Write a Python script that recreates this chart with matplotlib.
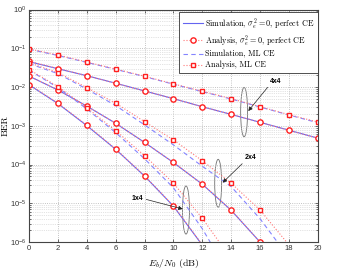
import numpy as np
import matplotlib
matplotlib.use('Agg')
import matplotlib.pyplot as plt
from matplotlib.patches import Ellipse

plt.rcParams['mathtext.fontset'] = 'cm'

snr = [0, 2, 4, 6, 8, 10, 12, 14, 16, 18, 20]

# 4x4
sim_pcsi_4x4 = [4.5e-2, 2.95e-2, 1.95e-2, 1.25e-2, 7.9e-3, 5.0e-3, 3.1e-3, 1.96e-3, 1.23e-3, 7.7e-4, 4.8e-4]
ana_pcsi_4x4 = [4.6e-2, 3.0e-2, 1.96e-2, 1.24e-2, 7.9e-3, 5.0e-3, 3.1e-3, 1.97e-3, 1.23e-3, 7.6e-4, 4.8e-4]
sim_ml_4x4 = [9.4e-2, 6.5e-2, 4.3e-2, 2.85e-2, 1.85e-2, 1.18e-2, 7.6e-3, 4.9e-3, 3.05e-3, 1.9e-3, 1.2e-3]
ana_ml_4x4 = [9.6e-2, 6.7e-2, 4.4e-2, 2.9e-2, 1.9e-2, 1.2e-2, 7.8e-3, 5.0e-3, 3.1e-3, 1.94e-3, 1.25e-3]

# 2x4
sim_pcsi_2x4 = [1.9e-2, 8.3e-3, 3.2e-3, 1.15e-3, 3.7e-4, 1.12e-4, 3.1e-5, 6.6e-6, 1.0e-6, 1.2e-7, 1e-8]
ana_pcsi_2x4 = [1.9e-2, 8.4e-3, 3.2e-3, 1.16e-3, 3.7e-4, 1.13e-4, 3.1e-5, 6.7e-6, 1.0e-6, 1.2e-7, 1e-8]
sim_ml_2x4 = [4.0e-2, 2.2e-2, 8.8e-3, 3.3e-3, 1.05e-3, 3.2e-4, 9.0e-5, 2.7e-5, 4.0e-6, 4.0e-7, 3e-8]
ana_ml_2x4 = [4.2e-2, 2.34e-2, 9.6e-3, 3.8e-3, 1.27e-3, 4.3e-4, 1.25e-4, 3.3e-5, 6.7e-6, 8.5e-7, 8e-8]

# 1x4
snr_1x4 = [0, 2, 4, 6, 8, 10, 12, 14]
sim_pcsi_1x4 = [1.13e-2, 3.7e-3, 1.0e-3, 2.45e-4, 5.0e-5, 8.4e-6, 8.3e-7, 5.5e-8]
ana_pcsi_1x4 = [1.15e-2, 3.8e-3, 1.03e-3, 2.5e-4, 5.1e-5, 8.6e-6, 8.5e-7, 6e-8]
sim_ml_1x4 = [2.7e-2, 9.6e-3, 2.7e-3, 6.6e-4, 1.4e-4, 2.5e-5, 2.2e-6, 1.2e-7]
ana_ml_1x4 = [2.8e-2, 1.02e-2, 2.9e-3, 7.4e-4, 1.69e-4, 3.3e-5, 4.1e-6, 3.7e-7]

xticks = [0, 2, 4, 6, 8, 10, 12, 14, 16, 18, 20]
yticks = [1e-6, 1e-5, 1e-4, 1e-3, 1e-2, 1e-1, 1e0]
ytick_labels = [r'$\mathregular{10^{-6}}$', r'$\mathregular{10^{-5}}$', r'$\mathregular{10^{-4}}$',
                r'$\mathregular{10^{-3}}$', r'$\mathregular{10^{-2}}$', r'$\mathregular{10^{-1}}$',
                r'$\mathregular{10^{0}}$']

# (label, ellipse x, ellipse y low, ellipse y high, arrow head, text pos)
groups = [
    ('4x4', 14.9, 5.2e-4, 9.8e-3, (15.19, 2.4e-3), (16.69, 1.16e-2)),
    ('2x4', 13.1, 7.9e-6, 1.36e-4, (13.41, 3.4e-5), (14.96, 1.23e-4)),
    ('1x4', 10.87, 1.6e-6, 2.8e-5, (10.64, 7.1e-6), (7.92, 1.31e-5)),
]

c_sim = '#6464f0'
c_simml = '#8484ff'
c_ana = '#ff2020'
c_dot = '#ff7878'

fig = plt.figure(figsize=(3.39, 2.74), dpi=100)
ax = fig.add_axes([0.0864, 0.1168, 0.8506, 0.8485])

first = True
for x, sp, ap, sm, am in [(snr, sim_pcsi_4x4, ana_pcsi_4x4, sim_ml_4x4, ana_ml_4x4),
                          (snr, sim_pcsi_2x4, ana_pcsi_2x4, sim_ml_2x4, ana_ml_2x4),
                          (snr_1x4, sim_pcsi_1x4, ana_pcsi_1x4, sim_ml_1x4, ana_ml_1x4)]:
    ax.plot(x, sp, '-', color=c_sim, lw=0.8,
            label=r'Simulation, $\sigma_e^2 = 0$, perfect CE' if first else None)
    ax.plot(x, ap, ':', color=c_dot, lw=0.8, marker='o', ms=3.8, mec=c_ana, mfc='white', mew=1.0,
            label=r'Analysis, $\sigma_e^2 = 0$, perfect CE' if first else None)
    ax.plot(x, sm, '--', color=c_simml, lw=0.8, dashes=(4, 3),
            label='Simulation, ML CE' if first else None)
    ax.plot(x, am, ':', color=c_dot, lw=0.8, marker='s', ms=3.4, mec=c_ana, mfc='white', mew=1.0,
            label='Analysis, ML CE' if first else None)
    first = False

ax.set_yscale('log')
ax.set_xlim(0, 20)
ax.set_ylim(1e-6, 1)
ax.set_xticks(xticks)
ax.set_xticklabels([str(v) for v in xticks], fontfamily='Liberation Sans', fontsize=5.5)
ax.set_yticks(yticks)
ax.set_yticklabels(ytick_labels, fontfamily='Liberation Sans', fontsize=5.5)
ax.tick_params(which='both', direction='in', top=True, right=True, length=2, width=0.5, pad=2, colors='#333333')
ax.tick_params(which='minor', length=1.2)
ax.yaxis.set_minor_formatter(matplotlib.ticker.NullFormatter())
ax.grid(True, which='major', ls=':', color='#b0b0b0', lw=0.6)
ax.grid(True, which='minor', axis='y', ls=':', color='#c8c8c8', lw=0.5)
for s in ax.spines.values():
    s.set_color('#444444')
    s.set_linewidth(0.8)

ax.set_xlabel(r'$E_b/N_0$ (dB)', fontfamily='cmr10', fontsize=7)
ax.set_ylabel('BER', fontfamily='cmr10', fontsize=7)
ax.xaxis.set_label_coords(0.5, -0.065)
ax.yaxis.set_label_coords(-0.068, 0.5)

leg = ax.legend(loc='upper right', bbox_to_anchor=(1.0, 0.988), borderaxespad=0,
                prop={'family': 'cmr10', 'size': 5.8}, fancybox=False, framealpha=1,
                edgecolor='#333333', handlelength=2.5, labelspacing=0.28, borderpad=0.45,
                handletextpad=0.2)
leg.get_frame().set_linewidth(0.6)

# ellipses and arrows
fig.canvas.draw()
to_axes = ax.transData + ax.transAxes.inverted()
for name, ex, ylo, yhi, head, tpos in groups:
    p0 = to_axes.transform((ex, ylo))
    p1 = to_axes.transform((ex, yhi))
    ax.add_patch(Ellipse(((p0[0] + p1[0]) / 2, (p0[1] + p1[1]) / 2), 0.024, p1[1] - p0[1],
                         transform=ax.transAxes, fill=False, ec='#707070', lw=0.6))
    if name == '1x4':
        ha, va, rel = 'right', 'center', (1.0, 0.5)
    else:
        ha, va, rel = 'left', 'bottom', (0.0, 0.0)
    ax.annotate(name, xy=head, xytext=tpos, ha=ha, va=va, fontsize=5, fontweight='bold',
                fontfamily='Liberation Sans',
                arrowprops=dict(arrowstyle='-|>', color='#222222', lw=0.5, mutation_scale=6,
                                shrinkA=0, shrinkB=0, relpos=rel))

fig.savefig('out.png', dpi=100)
